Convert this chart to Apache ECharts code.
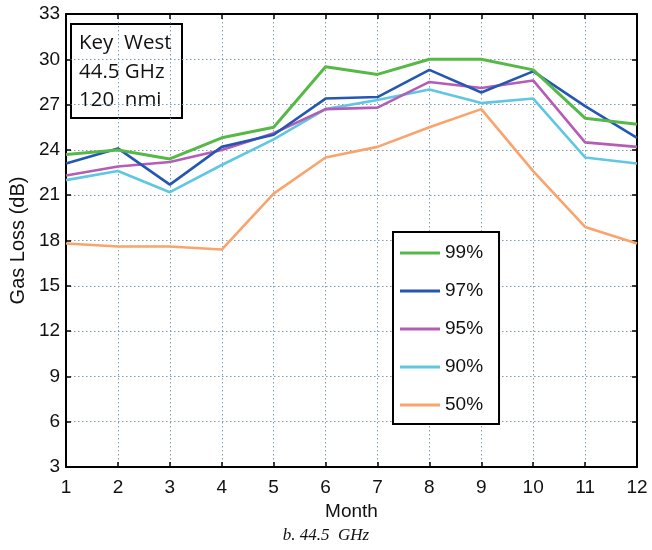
<!DOCTYPE html>
<html>
<head>
<meta charset="utf-8">
<script src="https://cdn.jsdelivr.net/npm/echarts@6/dist/echarts.min.js"></script>
<style>html,body{margin:0;padding:0;background:#fff;}#c{width:652px;height:550px;}</style>
</head>
<body>
<div id="c"></div>
<script>
var months = ['1','2','3','4','5','6','7','8','9','10','11','12'];
var seriesNames = ['99%','97%','95%','90%','50%'];
var p99 = [23.7, 24.0, 23.4, 24.8, 25.5, 29.5, 29.0, 30.0, 30.0, 29.3, 26.1, 25.7];
var p97 = [23.1, 24.1, 21.7, 24.2, 25.0, 27.4, 27.5, 29.3, 27.8, 29.2, 26.9, 24.8];
var p95 = [22.3, 22.9, 23.2, 24.0, 25.1, 26.7, 26.8, 28.5, 28.1, 28.6, 24.5, 24.2];
var p90 = [22.0, 22.6, 21.2, 23.0, 24.7, 26.7, 27.3, 28.0, 27.1, 27.4, 23.5, 23.1];
var p50 = [17.8, 17.6, 17.6, 17.4, 21.1, 23.5, 24.2, 25.5, 26.7, 22.6, 18.9, 17.8];
var colors = ['#56b947', '#2457b2', '#b55db6', '#5fc7e2', '#f8a46c'];
var allData = [p99, p97, p95, p90, p50];

var chart = echarts.init(document.getElementById('c'));
var gridLine = {show: true, lineStyle: {color: '#7f9cb3', type: [1.5, 2.5], width: 1}};
var sansFont = '"Liberation Sans", Arial, sans-serif';
var series = allData.map(function (d, i) {
  return {
    name: seriesNames[i], type: 'line', data: d, showSymbol: false, symbol: 'none',
    lineStyle: {color: colors[i], width: i === 0 ? 3 : 2.6}, itemStyle: {color: colors[i]},
    z: 10 - i, animation: false
  };
});
chart.setOption({
  animation: false,
  grid: {left: 61, right: 15, top: 14, bottom: 83},
  xAxis: [{
    type: 'category', data: months, boundaryGap: false,
    name: 'Month', nameLocation: 'middle', nameGap: 34,
    nameTextStyle: {fontFamily: sansFont, fontSize: 19, color: '#111'},
    axisLine: {lineStyle: {color: '#000', width: 2}},
    axisTick: {inside: true, length: 5, lineStyle: {color: '#000', width: 1.5}},
    axisLabel: {fontFamily: sansFont, fontSize: 19, color: '#111', margin: 11},
    splitLine: gridLine
  }, {
    type: 'category', data: months, boundaryGap: false, position: 'top',
    axisLine: {lineStyle: {color: '#000', width: 2}},
    axisTick: {inside: true, length: 5, lineStyle: {color: '#000', width: 1.5}},
    axisLabel: {show: false}, splitLine: {show: false}
  }],
  yAxis: [{
    type: 'value', min: 3, max: 33, interval: 3,
    name: 'Gas Loss (dB)', nameLocation: 'middle', nameGap: 33, nameRotate: 90,
    nameTextStyle: {fontFamily: sansFont, fontSize: 20, color: '#111'},
    axisLine: {show: true, lineStyle: {color: '#000', width: 2}},
    axisTick: {show: true, inside: true, length: 5, lineStyle: {color: '#000', width: 1.5}},
    axisLabel: {fontFamily: sansFont, fontSize: 19, color: '#111', margin: 6},
    splitLine: gridLine
  }, {
    type: 'value', min: 3, max: 33, interval: 3, position: 'right',
    axisLine: {show: true, lineStyle: {color: '#000', width: 2}},
    axisTick: {show: true, inside: true, length: 5, lineStyle: {color: '#000', width: 1.5}},
    axisLabel: {show: false}, splitLine: {show: false}
  }],
  legend: {
    data: seriesNames, orient: 'vertical', left: 393, top: 232,
    backgroundColor: '#fff', borderColor: '#000', borderWidth: 2,
    padding: [11, 16, 9, 7], itemGap: 18, itemWidth: 40, itemHeight: 3,
    icon: 'rect',
    textStyle: {fontFamily: sansFont, fontSize: 19, color: '#111', lineHeight: 20}
  },
  graphic: [{
    type: 'group', left: 70, top: 23, z: 100,
    children: [{
      type: 'rect', shape: {x: 0, y: 0, width: 111, height: 94},
      style: {fill: '#fff', stroke: '#000', lineWidth: 2}
    }, {
      type: 'text', x: 8, y: 5,
      style: {text: 'Key  West\n44.5 GHz\n120  nmi', fill: '#111',
        font: '20.5px "Open Sans", sans-serif', lineHeight: 28.5}
    }]
  }, {
    type: 'text', left: 'center', top: 527,
    style: {text: 'b. 44.5  GHz', fill: '#111', font: 'italic 17px "Liberation Serif", "Times New Roman", serif'},
    x: 4
  }],
  series: series
});
</script>
</body>
</html>
